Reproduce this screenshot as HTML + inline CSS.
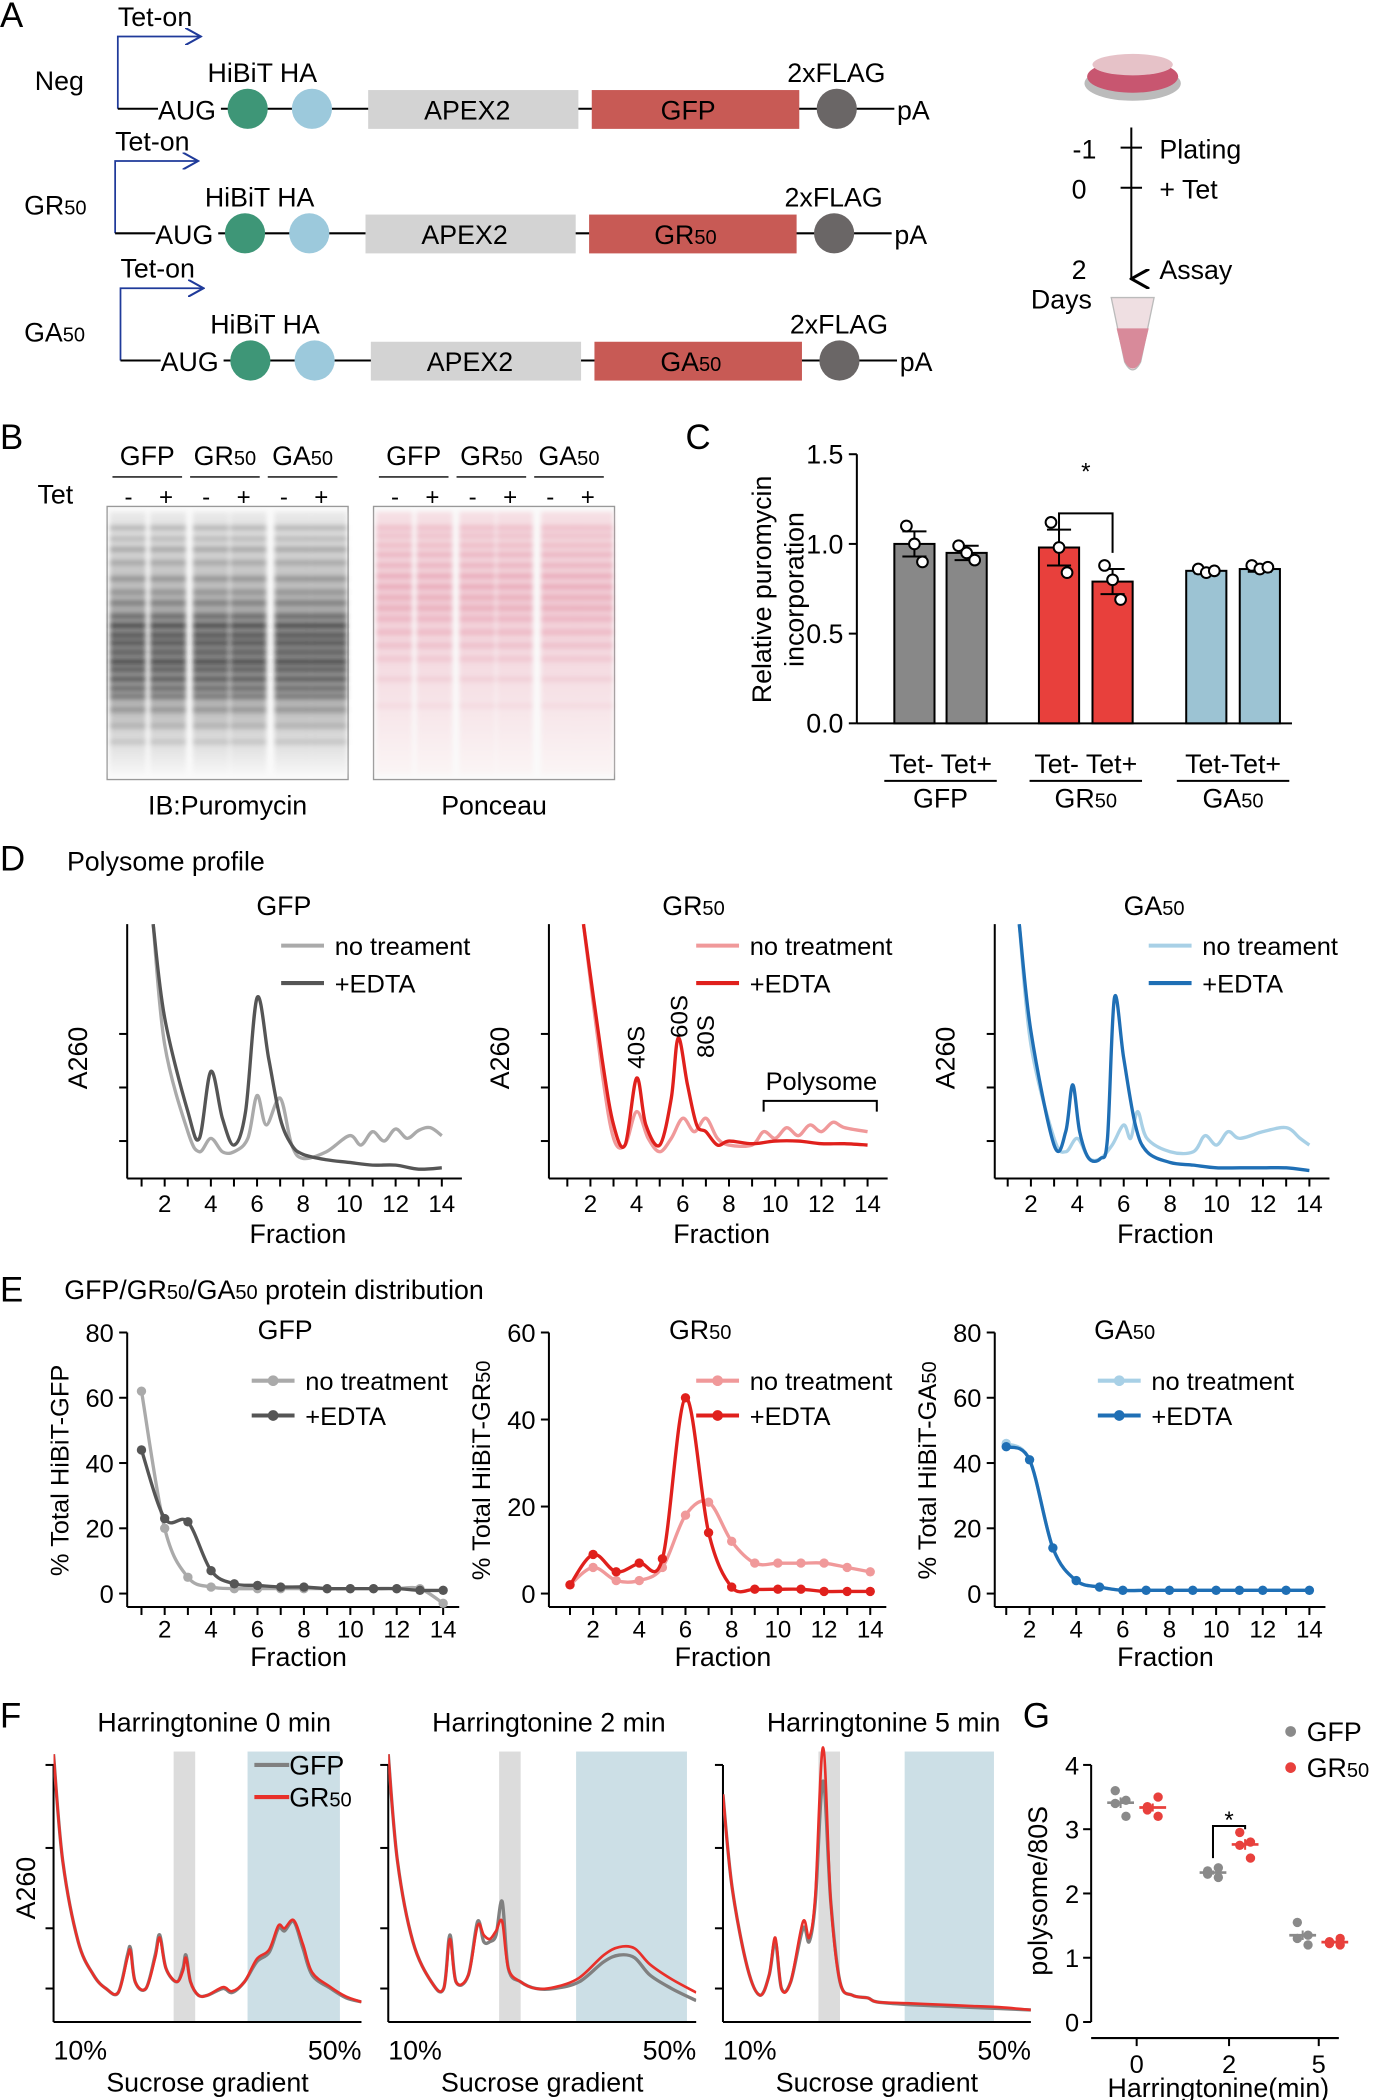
<!DOCTYPE html>
<html><head><meta charset="utf-8"><style>
html,body{margin:0;padding:0;background:#fff;}
svg{display:block;font-family:"Liberation Sans",Arial,sans-serif;}
</style></head><body>
<svg id="fig" width="1379" height="2100" viewBox="0 0 1030 1568" xmlns="http://www.w3.org/2000/svg">
<defs>
<linearGradient id="blotGray" x1="0" y1="0" x2="0" y2="1">
<stop offset="0" stop-color="#ddd"/><stop offset="0.3" stop-color="#888"/><stop offset="0.5" stop-color="#333"/><stop offset="0.65" stop-color="#555"/><stop offset="0.85" stop-color="#bbb"/><stop offset="1" stop-color="#f4f4f4"/></linearGradient>
<linearGradient id="blotPink" x1="0" y1="0" x2="0" y2="1">
<stop offset="0" stop-color="#f2c9d2"/><stop offset="0.35" stop-color="#e9a5b6"/><stop offset="0.6" stop-color="#f0c4cf"/><stop offset="1" stop-color="#fbf0f0"/></linearGradient>
<filter id="soft" x="-10%" y="-10%" width="120%" height="120%"><feGaussianBlur stdDeviation="1.8"/></filter>
<marker id="arrowBlue" markerWidth="10" markerHeight="10" refX="9" refY="5" orient="auto"><path d="M0,0 L9,5 L0,10" fill="none" stroke="#1f3a9a" stroke-width="1.2"/></marker>
<marker id="arrowBlack" markerWidth="10" markerHeight="10" refX="5" refY="9" orient="auto-start-reverse"><path d="M0,0 L5,9 L10,0" fill="none" stroke="#000" stroke-width="1.5"/></marker>
</defs>
<g id="root"></g>
</svg>
<script>
// ---------------- DATA ----------------
// Panel C
const cCategories = ["GFP Tet-","GFP Tet+","GR50 Tet-","GR50 Tet+","GA50 Tet-","GA50 Tet+"];
const cMeans = [1.00,0.95,0.98,0.79,0.85,0.86];
const cErr = [0.07,0.04,0.10,0.07,0.015,0.015];
const cPoints = [[1.1,1.0,0.9],[0.99,0.95,0.91],[1.12,0.98,0.84],[0.88,0.8,0.69],[0.86,0.84,0.85],[0.88,0.86,0.87]];
const cTicks = [0.0,0.5,1.0,1.5];
// Panel D (fraction, A260 a.u.)
const dGfpNoTx = [[1.5,19],[2,10],[3,3.5],[3.5,2],[4,3],[4.5,2],[5,2],[5.6,3],[6,6.2],[6.4,4],[7,6],[7.5,2.5],[8,1.5],[9,2],[10,3.2],[10.5,2.5],[11,3.5],[11.5,2.8],[12,3.7],[12.5,3],[13,3.6],[13.5,3.8],[14,3.2]];
const dGfpEdta = [[1.5,19],[2,12],[3,5],[3.5,3],[4,8],[4.5,4.5],[5,2.5],[5.5,5],[6,13.5],[6.5,9],[7,4.5],[7.5,2.5],[8,1.8],[9,1.4],[10,1.2],[11,1],[12,1],[13,0.7],[14,0.8]];
const dGrNoTx = [[1.7,19],[2.5,8],[3,3],[3.5,2.5],[4,5],[4.5,3],[5,2],[5.5,3],[6,4.5],[6.5,3.5],[7,4.5],[7.5,3],[8,2.5],[9,2.5],[9.5,3.5],[10,3],[10.5,3.8],[11,3.2],[11.5,4],[12,3.5],[12.5,4.2],[13,3.8],[14,3.5]];
const dGrEdta = [[1.7,19],[2.5,9],[3,4],[3.5,2.5],[4,7.5],[4.4,4],[5,2.5],[5.5,6],[5.8,10.5],[6.2,7],[6.6,4],[7,3.5],[7.5,2.5],[8,2.8],[9,2.6],[10,2.8],[11,2.8],[12,2.6],[13,2.6],[14,2.5]];
const dGaNoTx = [[1.5,19],[2,10],[3,3],[3.5,2],[4,3],[4.5,1.5],[5,1.5],[5.5,2.5],[6,4],[6.3,3],[6.6,5],[7,3],[8,2],[9,2],[9.5,3.2],[10,2.5],[10.5,3.5],[11,3],[12,3.5],[13,3.8],[13.6,3],[14,2.5]];
const dGaEdta = [[1.5,19],[2,11],[3,2.5],[3.5,3.5],[3.8,7],[4.1,3.5],[4.5,1.5],[5,1.5],[5.3,3],[5.6,13.5],[6,9],[6.5,4],[7,2],[8,1.2],[9,1],[10,0.8],[11,0.8],[12,0.8],[13,0.8],[14,0.6]];
const fractionTicks = [2,4,6,8,10,12,14];
// Panel E
const eFractions = [1,2,3,4,5,6,7,8,9,10,11,12,13,14];
const eGfpNoTx = [62,20,5,2,1.5,1.5,1.5,1.5,1.5,1.5,1.5,1.5,1.5,-3];
const eGfpEdta = [44,23,22,7,3,2.5,2,2,1.5,1.5,1.5,1.5,1,1];
const eGrNoTx = [2,6,3,3,6,18,21,12,7,7,7,7,6,5];
const eGrEdta = [2,9,5,7,8,45,14,1.5,1,1,1,0.5,0.5,0.5];
const eGaNoTx = [46,41,14,4,2,1,1,1,1,1,1,1,1,1];
const eGaEdta = [45,41,14,4,2,1,1,1,1,1,1,1,1,1];
// Panel F
const fP0 = [[0,20],[3,12],[8,6],[13,3.5],[17,2.5],[21,2.2],[24,5],[25,5.5],[26.5,3],[30,2.5],[33,5],[34.5,6.5],[36.5,4],[40,3],[42,4],[43,5],[44.5,3],[47,2],[50,2],[55,2.5],[58,2.2],[62,3],[66,4.5],[70,5.2],[73,7],[75,6.8],[78,7.5],[81,5.5],[84,3.5],[90,2.5],[95,1.8],[100,1.5]];
const fP0Gr = [[0,20],[3,12],[8,6],[13,3.5],[17,2.5],[21,2.2],[24,4.8],[25,5.3],[26.5,3],[30,2.5],[33,4.8],[34.5,6.3],[36.5,4],[40,3],[42,3.8],[43,4.8],[44.5,3],[47,2],[50,2],[55,2.6],[58,2.3],[62,3],[66,4.7],[70,5.4],[73,7.2],[75,7],[78,7.6],[81,5.8],[84,3.7],[90,2.6],[95,1.9],[100,1.5]];
const fP2 = [[0,20],[3,12],[8,6],[14,3],[18,2.5],[20,6.5],[22,3],[26,3.5],[29,7.5],[31,6],[33,6],[35,6.5],[37,9],[39,4],[43,3],[48,2.5],[54,2.5],[62,3],[70,4.5],[75,5],[80,4.8],[85,3.5],[92,2.5],[100,1.6]];
const fP2Gr = [[0,20],[3,12],[8,6],[14,3],[18,2.5],[20,6.2],[22,3],[26,3.5],[29,7.2],[31,6.5],[33,6.2],[35,6.8],[37,7.5],[39,4],[43,3],[48,2.5],[54,2.6],[62,3.3],[70,5],[75,5.6],[80,5.5],[85,4.3],[92,3.2],[100,2.2]];
const fP5 = [[0,17],[3,10],[8,4],[12,2],[15,3.5],[17,6],[19,2.5],[22,3],[26,7],[28,6],[30,9],[32.5,18],[35,9],[38,3],[42,2],[47,1.8],[50,1.5],[60,1.3],[70,1.2],[80,1.1],[90,1],[100,0.9]];
const fP5Gr = [[0,17],[3,10],[8,4],[12,2],[15,3.5],[17,6.3],[19,2.5],[22,3],[26,7.5],[28,6.3],[30,9.5],[32.5,20.5],[35,9],[38,3],[42,2],[47,1.8],[50,1.5],[60,1.4],[70,1.3],[80,1.2],[90,1.1],[100,0.9]];
// Panel G
const gTimes = [0,2,5];
const gGfp = [[3.2,3.4,3.6,3.45],[2.25,2.3,2.35,2.4],[1.2,1.3,1.55,1.35]];
const gGr = [[3.2,3.3,3.35,3.5],[2.55,2.75,2.95,2.8],[1.2,1.22,1.25,1.3]];
const gTicks = [0,1,2,3,4];

// ---------------- HELPERS ----------------
const NS="http://www.w3.org/2000/svg";
const root=document.getElementById('root');
function mk(tag,attrs,parent){const e=document.createElementNS(NS,tag);for(const k in attrs)e.setAttribute(k,attrs[k]);(parent||root).appendChild(e);return e;}
function txt(x,y,s,size,anchor,parent,extra){const e=mk('text',Object.assign({x:x,y:y,'font-size':size||20,'text-anchor':anchor||'start',fill:'#000'},extra||{}),parent);e.innerHTML=s;return e;}
function smooth(p){let d=`M${p[0][0].toFixed(1)},${p[0][1].toFixed(1)}`;for(let i=0;i<p.length-1;i++){const p0=p[i-1]||p[i],p1=p[i],p2=p[i+1],p3=p[i+2]||p2;const c1x=p1[0]+(p2[0]-p0[0])/6,c1y=p1[1]+(p2[1]-p0[1])/6,c2x=p2[0]-(p3[0]-p1[0])/6,c2y=p2[1]-(p3[1]-p1[1])/6;d+=` C${c1x.toFixed(1)},${c1y.toFixed(1)} ${c2x.toFixed(1)},${c2y.toFixed(1)} ${p2[0].toFixed(1)},${p2[1].toFixed(1)}`;}return d;}
const sub=s=>`<tspan font-size="15">${s}</tspan>`;

// ---------------- PANEL LABELS ----------------
[["A",0,20],["B",0,335],["C",512,335],["D",0,650],["E",0,972],["F",0,1290],["G",764,1290]].forEach(([l,x,y])=>{
 const t=txt(x,y,l,26);
 
 
});

// ---------------- PANEL A ----------------
const constructs=[{name:"Neg",y:81,lab:"GFP",dx:0},{name:"GR"+sub("50"),y:174,lab:"GR"+sub("50"),dx:-2},{name:"GA"+sub("50"),y:269,lab:"GA"+sub("50"),dx:2}];
constructs.forEach((c,i)=>{
 const g=mk('g',{});
 
 
 const y=c.y,dx=c.dx;
 const n=txt(i==0?26:18,y-14,c.name,20,'start',g);
 
 
 mk('path',{d:`M${88+dx},${y} V${y-54} H${150+dx}`,fill:'none',stroke:'#1f3a9a','stroke-width':1.3,'marker-end':'url(#arrowBlue)'},g);
 txt(88+dx,y-62,"Tet-on",20,'start',g);
 mk('line',{x1:88+dx,y1:y,x2:118+dx,y2:y,stroke:'#000','stroke-width':1.5},g);
 txt(118+dx,y+8,"AUG",20,'start',g);
 mk('line',{x1:165+dx,y1:y,x2:668+dx,y2:y,stroke:'#000','stroke-width':1.5},g);
 mk('circle',{cx:185+dx,cy:y,r:15,fill:'#3e9677'},g);
 mk('circle',{cx:233+dx,cy:y,r:15,fill:'#9cc9dc'},g);
 txt(155+dx,y-20,"HiBiT HA",20,'start',g);
 const a=mk('rect',{x:275+dx,y:y-14,width:157,height:29,fill:'#d3d3d3'},g);
 
 
 txt(349+dx,y+8,"APEX2",20,'middle',g);
 const r=mk('rect',{x:442+dx,y:y-14,width:155,height:29,fill:'#c85a55'},g);
 
 
 txt(514+dx,y+8,c.lab,20,'middle',g);
 mk('circle',{cx:625+dx,cy:y,r:15,fill:'#6a6666'},g);
 txt(588+dx,y-20,"2xFLAG",20,'start',g);
 txt(670+dx,y+8,"pA",20,'start',g);
});
{const g=mk('g',{});
 
 
 mk('ellipse',{cx:846,cy:62,rx:36,ry:13,fill:'#bbb'},g);
 mk('ellipse',{cx:846,cy:57,rx:34,ry:12,fill:'#c85670'},g);
 mk('ellipse',{cx:846,cy:48,rx:30,ry:8,fill:'#e6c2c8'},g);
 mk('line',{x1:845,y1:95,x2:845,y2:208,stroke:'#000','stroke-width':1.5,'marker-end':'url(#arrowBlack)'},g);
 mk('line',{x1:837,y1:110,x2:853,y2:110,stroke:'#000','stroke-width':1.5},g);
 mk('line',{x1:837,y1:140,x2:853,y2:140,stroke:'#000','stroke-width':1.5},g);
 txt(810,118,"-1",20,'middle',g);txt(866,118,"Plating",20,'start',g);
 txt(806,148,"0",20,'middle',g);txt(866,148,"+ Tet",20,'start',g);
 txt(806,208,"2",20,'middle',g);txt(866,208,"Assay",20,'start',g);
 txt(770,230,"Days",20,'start',g);
 mk('path',{d:'M830,222 H862 L852,270 Q846,282 840,270 Z',fill:'#efdfe2',stroke:'#bbb'},g);
 mk('path',{d:'M834,245 H858 L852,270 Q846,280 840,270 Z',fill:'#d88a9a'},g);
}

// ---------------- PANEL B ----------------
const blotLanes=[95,125,157,185,218,245];
const bandRows=[392,400,408,418,430,440,448,458,465,472,478,485,492,498,505,512,518,528,540,552];
const bandDark=[0.25,0.2,0.3,0.25,0.35,0.3,0.4,0.5,0.75,0.6,0.55,0.5,0.7,0.55,0.6,0.5,0.45,0.3,0.2,0.15];
const pinkRows=[392,398,405,412,420,428,436,444,452,460,470,480,490,505,525];
const pinkDark=[0.3,0.25,0.3,0.35,0.35,0.4,0.4,0.35,0.35,0.3,0.3,0.25,0.2,0.15,0.1];
function blot(x0,fill,rows,dark,color,name,groups,label){
 const g=mk('g',{});
 
 
 mk('rect',{x:x0,y:378,width:180,height:204,fill:'#fafafa',stroke:'#999'},g);
 const lanes=mk('g',{filter:'url(#soft)'},g);
 blotLanes.forEach(lx=>{
   mk('rect',{x:x0+lx-80-13,y:382,width:27,height:196,fill:fill,opacity:0.55},lanes);
   rows.forEach((ry,k)=>mk('rect',{x:x0+lx-80-13,y:ry,width:27,height:4,fill:color,opacity:dark[k]*0.8},lanes));
 });
 groups.forEach((s,k)=>{const cx=x0+30+k*58;txt(cx,347,s,20,'middle',g);mk('line',{x1:cx-26,y1:356,x2:cx+26,y2:356,stroke:'#000'},g);
   txt(cx-14,377,"-",18,'middle',g);txt(cx+14,377,"+",18,'middle',g);});
 txt(x0+90,608,label,20,'middle',g);
}
blot(80,'url(#blotGray)',bandRows,bandDark,'#111','blot-puromycin',["GFP","GR"+sub("50"),"GA"+sub("50")],"IB:Puromycin");
blot(279,'url(#blotPink)',pinkRows,pinkDark,'#d9607d','blot-ponceau',["GFP","GR"+sub("50"),"GA"+sub("50")],"Ponceau");
{const t=txt(28,376,"Tet",20);}

// ---------------- PANEL C ----------------
{const g=mk('g',{});
 
 
 const yC=v=>540-v*134;
 const xC=[683,722,791,831,901,941];
 const colors=['#888888','#888888','#e8403c','#e8403c','#9cc3d3','#9cc3d3'];
 mk('line',{x1:640,y1:yC(0),x2:640,y2:yC(1.5),stroke:'#000','stroke-width':1.5},g);
 cTicks.forEach(t=>{mk('line',{x1:634,y1:yC(t),x2:640,y2:yC(t),stroke:'#000','stroke-width':1.5},g);txt(630,yC(t)+7,t.toFixed(1),20,'end',g);});
 mk('line',{x1:640,y1:yC(0),x2:965,y2:yC(0),stroke:'#000','stroke-width':1.5},g);
 const yl=txt(0,0,"Relative puromycin",20,'middle',g);yl.setAttribute('transform','translate(576,440) rotate(-90)');
 const yl2=txt(0,0,"incorporation",20,'middle',g);yl2.setAttribute('transform','translate(600,440) rotate(-90)');
 cMeans.forEach((m,i)=>{
  const b=mk('rect',{x:xC[i]-15,y:yC(m),width:30,height:yC(0)-yC(m),fill:colors[i],stroke:'#000','stroke-width':1.5},g);
  
  
  mk('line',{x1:xC[i],y1:yC(m-cErr[i]),x2:xC[i],y2:yC(m+cErr[i]),stroke:'#000','stroke-width':1.5},g);
  mk('line',{x1:xC[i]-9,y1:yC(m+cErr[i]),x2:xC[i]+9,y2:yC(m+cErr[i]),stroke:'#000','stroke-width':1.5},g);
  mk('line',{x1:xC[i]-9,y1:yC(m-cErr[i]),x2:xC[i]+9,y2:yC(m-cErr[i]),stroke:'#000','stroke-width':1.5},g);
  cPoints[i].forEach((p,k)=>mk('circle',{cx:xC[i]+(k-1)*6,cy:yC(p),r:4,fill:'#fff',stroke:'#000','stroke-width':1.5},g));
 });
 mk('path',{d:`M${xC[2]},${yC(1.05)} V${yC(1.17)} H${xC[3]} V${yC(0.95)}`,fill:'none',stroke:'#000','stroke-width':1.5},g);
 txt(811,358,"*",18,'middle',g);
 const grp=[["Tet- Tet+","GFP"],["Tet- Tet+","GR"+sub("50")],["Tet-Tet+","GA"+sub("50")]];
 grp.forEach((s,k)=>{const cx=(xC[2*k]+xC[2*k+1])/2;txt(cx,577,s[0],20,'middle',g);mk('line',{x1:cx-42,y1:583,x2:cx+42,y2:583,stroke:'#000','stroke-width':1.5},g);txt(cx,603,s[1],20,'middle',g);});
}

// ---------------- PANEL D ----------------
{const t=txt(50,650,"Polysome profile",20);}
function profilePanel(opt){
 const g=mk('g',{});
 
 
 const xF=f=>opt.x2+(f-2)*(opt.x14-opt.x2)/12;
 const yV=v=>opt.base-v*10;
 mk('line',{x1:opt.ax,y1:690,x2:opt.ax,y2:880,stroke:'#000','stroke-width':1.5},g);
 [772,812,852].forEach(y=>mk('line',{x1:opt.ax-6,y1:y,x2:opt.ax,y2:y,stroke:'#000','stroke-width':1.5},g));
 mk('line',{x1:opt.ax,y1:880,x2:opt.x14+15,y2:880,stroke:'#000','stroke-width':1.5},g);
 for(let f=1;f<=14;f++){mk('line',{x1:xF(f),y1:880,x2:xF(f),y2:886,stroke:'#000','stroke-width':1.5},g);}
 fractionTicks.forEach(f=>txt(xF(f),905,f,18,'middle',g));
 txt((opt.ax+opt.x14)/2+10,928,"Fraction",20,'middle',g);
 const yl=txt(0,0,"A260",20,'middle',g);yl.setAttribute('transform',`translate(${opt.ax-30},790) rotate(-90)`);
 txt(opt.titleX,683,opt.title,20,'middle',g);
 const clip=mk('clipPath',{id:'clip'+opt.name},g);mk('rect',{x:opt.ax,y:688,width:300,height:192},clip);
 const p1=mk('path',{d:smooth(opt.a.map(p=>[xF(p[0]),yV(p[1])])),fill:'none',stroke:opt.c1,'stroke-width':2.5,'clip-path':`url(#clip${opt.name})`},g);
 
 
 const p2=mk('path',{d:smooth(opt.b.map(p=>[xF(p[0]),yV(p[1])])),fill:'none',stroke:opt.c2,'stroke-width':2.5,'clip-path':`url(#clip${opt.name})`},g);
 
 
 const lg=mk('g',{},g);
 
 
 mk('line',{x1:opt.lx,y1:706,x2:opt.lx+32,y2:706,stroke:opt.c1,'stroke-width':3},lg);
 txt(opt.lx+40,713,opt.t1,19,'start',lg);
 mk('line',{x1:opt.lx,y1:734,x2:opt.lx+32,y2:734,stroke:opt.c2,'stroke-width':3},lg);
 txt(opt.lx+40,741,"+EDTA",19,'start',lg);
 return {g,xF,yV};
}
profilePanel({name:'profile-gfp',ax:95,x2:123,x14:330,base:880,title:"GFP",titleX:212,a:dGfpNoTx,b:dGfpEdta,c1:'#aaaaaa',c2:'#555555',lx:210,t1:"no treament"});
const pr=profilePanel({name:'profile-gr50',ax:410,x2:441,x14:648,base:880,title:"GR"+sub("50"),titleX:518,a:dGrNoTx,b:dGrEdta,c1:'#f0999a',c2:'#e0201c',lx:520,t1:"no treatment"});
{const g=pr.g;[["40S",4,798],["60S",5.85,775],["80S",7,790]].forEach(([s,f,y])=>{const t=txt(0,0,s,18,'start',g);t.setAttribute('transform',`translate(${pr.xF(f)+6},${y}) rotate(-90)`);});
 mk('path',{d:`M${pr.xF(9.5)},830 V822 H${pr.xF(14.4)} V830`,fill:'none',stroke:'#000','stroke-width':1.5},g);
 txt(pr.xF(12),814,"Polysome",19,'middle',g);}
profilePanel({name:'profile-ga50',ax:743,x2:770,x14:978,base:880,title:"GA"+sub("50"),titleX:862,a:dGaNoTx,b:dGaEdta,c1:'#a8d0e6',c2:'#1f6fb5',lx:858,t1:"no treament"});

// ---------------- PANEL E ----------------
{const t=txt(48,970,"GFP/GR"+sub("50")+"/GA"+sub("50")+" protein distribution",20);}
function distPanel(opt){
 const g=mk('g',{});
 
 
 const xF=f=>opt.x2+(f-2)*(opt.x14-opt.x2)/12;
 const yV=v=>1190-v*(1190-995)/opt.max;
 mk('line',{x1:opt.ax,y1:995,x2:opt.ax,y2:1200,stroke:'#000','stroke-width':1.5},g);
 opt.ticks.forEach(t=>{mk('line',{x1:opt.ax-6,y1:yV(t),x2:opt.ax,y2:yV(t),stroke:'#000','stroke-width':1.5},g);txt(opt.ax-10,yV(t)+7,t,19,'end',g);});
 mk('line',{x1:opt.ax,y1:1200,x2:opt.x14+12,y2:1200,stroke:'#000','stroke-width':1.5},g);
 for(let f=1;f<=14;f++)mk('line',{x1:xF(f),y1:1200,x2:xF(f),y2:1206,stroke:'#000','stroke-width':1.5},g);
 fractionTicks.forEach(f=>txt(xF(f),1223,f,18,'middle',g));
 txt((opt.ax+opt.x14)/2+10,1244,"Fraction",20,'middle',g);
 const yl=txt(0,0,opt.ylab,19,'middle',g);yl.setAttribute('transform',`translate(${opt.ax-44},1098) rotate(-90)`);
 txt(opt.titleX,1000,opt.title,20,'middle',g);
 [[opt.a,opt.c1,'no-treatment'],[opt.b,opt.c2,'edta']].forEach(([arr,c,n])=>{
  const pts=eFractions.map((f,i)=>[xF(f),yV(arr[i])]);
  const p=mk('path',{d:smooth(pts),fill:'none',stroke:c,'stroke-width':2.5},g);
  
  
  pts.forEach(q=>{const d=mk('circle',{cx:q[0],cy:q[1],r:3.5,fill:c},g);
   
   });
 });
 const lg=mk('g',{},g);
 
 
 mk('line',{x1:opt.lx,y1:1031,x2:opt.lx+32,y2:1031,stroke:opt.c1,'stroke-width':3},lg);mk('circle',{cx:opt.lx+16,cy:1031,r:4,fill:opt.c1},lg);
 txt(opt.lx+40,1038,opt.t1,19,'start',lg);
 mk('line',{x1:opt.lx,y1:1057,x2:opt.lx+32,y2:1057,stroke:opt.c2,'stroke-width':3},lg);mk('circle',{cx:opt.lx+16,cy:1057,r:4,fill:opt.c2},lg);
 txt(opt.lx+40,1064,"+EDTA",19,'start',lg);
}
distPanel({name:'distribution-gfp',ax:95,x2:123,x14:331,max:80,ticks:[0,20,40,60,80],ylab:"% Total HiBiT-GFP",title:"GFP",titleX:213,a:eGfpNoTx,b:eGfpEdta,c1:'#aaaaaa',c2:'#555555',lx:188,t1:"no treatment"});
distPanel({name:'distribution-gr50',ax:410,x2:443,x14:650,max:60,ticks:[0,20,40,60],ylab:"% Total HiBiT-GR"+sub("50"),title:"GR"+sub("50"),titleX:523,a:eGrNoTx,b:eGrEdta,c1:'#f0999a',c2:'#e0201c',lx:520,t1:"no treatment"});
distPanel({name:'distribution-ga50',ax:743,x2:769,x14:978,max:80,ticks:[0,20,40,60,80],ylab:"% Total HiBiT-GA"+sub("50"),title:"GA"+sub("50"),titleX:840,a:eGaNoTx,b:eGaEdta,c1:'#a8d0e6',c2:'#1f6fb5',lx:820,t1:"no treatment"});

// ---------------- PANEL F ----------------
function harrPanel(opt){
 const g=mk('g',{});
 
 
 const xP=p=>opt.x0+p*(opt.x1-opt.x0)/100;
 const yV=v=>1510-v*10;
 const gb=mk('rect',{x:xP(opt.gray[0]),y:1308,width:xP(opt.gray[1])-xP(opt.gray[0]),height:202,fill:'#dcdcdc'},g);
 
 
 const bb=mk('rect',{x:xP(opt.blue[0]),y:1308,width:xP(opt.blue[1])-xP(opt.blue[0]),height:202,fill:'#ccdfe6'},g);
 
 
 mk('line',{x1:opt.x0,y1:1318,x2:opt.x0,y2:1510,stroke:'#000','stroke-width':1.5},g);
 [1318,1380,1440,1485].forEach(y=>mk('line',{x1:opt.x0-6,y1:y,x2:opt.x0,y2:y,stroke:'#000','stroke-width':1.5},g));
 mk('line',{x1:opt.x0,y1:1510,x2:opt.x1,y2:1510,stroke:'#000','stroke-width':1.5},g);
 txt(opt.x0+20,1538,"10%",20,'middle',g);txt(opt.x1-20,1538,"50%",20,'middle',g);
 txt((opt.x0+opt.x1)/2,1562,"Sucrose gradient",20,'middle',g);
 txt((opt.x0+opt.x1)/2+5,1293,opt.title,20,'middle',g);
 const clip=mk('clipPath',{id:'clip'+opt.name},g);mk('rect',{x:opt.x0,y:1300,width:opt.x1-opt.x0,height:212},clip);
 const a=mk('path',{d:smooth(opt.a.map(p=>[xP(p[0]),yV(p[1])])),fill:'none',stroke:'#808080','stroke-width':2.5,'clip-path':`url(#clip${opt.name})`},g);
 
 
 const b=mk('path',{d:smooth(opt.b.map(p=>[xP(p[0]),yV(p[1])])),fill:'none',stroke:'#e8302a','stroke-width':2,'clip-path':`url(#clip${opt.name})`},g);
 
 
 return g;
}
const hp0=harrPanel({name:'harringtonine-0',x0:40,x1:270,gray:[39,46],blue:[63,93],title:"Harringtonine 0 min",a:fP0,b:fP0Gr});
{const lg=mk('g',{},hp0);
 
 
 mk('line',{x1:190,y1:1318,x2:216,y2:1318,stroke:'#808080','stroke-width':3},lg);txt(216,1325,"GFP",20,'start',lg);
 mk('line',{x1:190,y1:1342,x2:216,y2:1342,stroke:'#e8302a','stroke-width':3},lg);txt(216,1349,"GR"+sub("50"),20,'start',lg);
 const yl=txt(0,0,"A260",20,'middle',lg);yl.setAttribute('transform','translate(26,1410) rotate(-90)');}
harrPanel({name:'harringtonine-2',x0:290,x1:520,gray:[36,43],blue:[61,97],title:"Harringtonine 2 min",a:fP2,b:fP2Gr});
harrPanel({name:'harringtonine-5',x0:540,x1:770,gray:[31,38],blue:[59,88],title:"Harringtonine 5 min",a:fP5,b:fP5Gr});

// ---------------- PANEL G ----------------
{const g=mk('g',{});
 
 
 const yG=v=>1510-v*48;
 const xG=[849,918,985];
 const ax=815;
 mk('line',{x1:ax,y1:yG(0),x2:ax,y2:yG(4),stroke:'#000','stroke-width':1.5},g);
 gTicks.forEach(t=>{mk('line',{x1:ax-6,y1:yG(t),x2:ax,y2:yG(t),stroke:'#000','stroke-width':1.5},g);txt(ax-9,yG(t)+7,t,19,'end',g);});
 mk('line',{x1:ax,y1:1522,x2:1000,y2:1522,stroke:'#000','stroke-width':1.5},g);
 gTimes.forEach((t,i)=>{mk('line',{x1:xG[i],y1:1522,x2:xG[i],y2:1528,stroke:'#000','stroke-width':1.5},g);txt(xG[i],1548,t,19,'middle',g);});
 txt(910,1566,"Harringtonine(min)",20,'middle',g);
 const yl=txt(0,0,"polysome/80S",20,'middle',g);yl.setAttribute('transform','translate(782,1412) rotate(-90)');
 [[gGfp,'#8a8a8a',-12,'gfp'],[gGr,'#e8403c',12,'gr50']].forEach(([arr,c,off,n])=>{
  arr.forEach((vals,i)=>{
   const m=vals.reduce((a,b)=>a+b,0)/vals.length;
   const x=xG[i]+off;
   mk('line',{x1:x-10,y1:yG(m),x2:x+10,y2:yG(m),stroke:c,'stroke-width':2},g);
   const sd=Math.sqrt(vals.reduce((a,b)=>a+(b-m)*(b-m),0)/(vals.length-1))/2;
   mk('line',{x1:x,y1:yG(m-sd),x2:x,y2:yG(m+sd),stroke:c,'stroke-width':1.5},g);
   vals.forEach((v,k)=>{const d=mk('circle',{cx:x+(k%2?4:-4)*(k>1?1:-1),cy:yG(v),r:3.5,fill:c},g);
    
    });
  });
 });
 mk('path',{d:`M${xG[1]-12},${yG(2.55)} V${yG(3.05)} H${xG[1]+12} V${yG(3.0)}`,fill:'none',stroke:'#000','stroke-width':1.5},g);
 txt(xG[1],1365,"*",18,'middle',g);
 const lg=mk('g',{},g);
 
 
 mk('circle',{cx:964,cy:1293,r:4,fill:'#8a8a8a'},lg);txt(976,1300,"GFP",20,'start',lg);
 mk('circle',{cx:964,cy:1320,r:4,fill:'#e8403c'},lg);txt(976,1327,"GR"+sub("50"),20,'start',lg);
}
</script>
</body></html>
